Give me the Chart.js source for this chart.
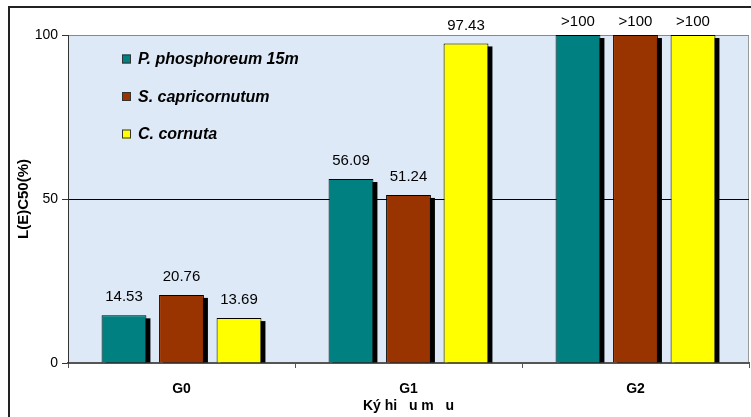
<!DOCTYPE html>
<html>
<head>
<meta charset="utf-8">
<script src="https://cdn.jsdelivr.net/npm/chart.js@4"></script>
<style>
  body { margin: 0; background: #fff; }
</style>
</head>
<body>
<canvas id="chart1" width="751" height="417"></canvas>
<script>
var groups = ['G0', 'G1', 'G2'];
var species = ['P. phosphoreum 15m', 'S. capricornutum', 'C. cornuta'];
var phosphoreum = [14.53, 56.09, 100];
var capricornutum = [20.76, 51.24, 100];
var cornuta = [13.69, 97.43, 100];
var phosphoreumText = ['14.53', '56.09', '>100'];
var capricornutumText = ['20.76', '51.24', '>100'];
var cornutaText = ['13.69', '97.43', '>100'];
var yTicks = [0, 50, 100];

var colors = ['#008080', '#993300', '#ffff00'];
var FONT = '"Liberation Sans", Arial, sans-serif';

// frame + plot background
var framePlugin = {
    id: 'frame',
    beforeDraw: function (chart) {
        var ctx = chart.ctx, a = chart.chartArea;
        ctx.save();
        ctx.fillStyle = '#dde9f7';
        ctx.fillRect(a.left, a.top, a.right - a.left, a.bottom - a.top);
        ctx.strokeStyle = '#222';
        ctx.lineWidth = 2;
        ctx.strokeRect(9, 7, 800, 500);
        ctx.strokeStyle = '#999';
        ctx.lineWidth = 1;
        ctx.beginPath();
        ctx.moveTo(a.right - 0.5, a.top);
        ctx.lineTo(a.right - 0.5, a.bottom);
        ctx.stroke();
        ctx.restore();
    }
};

// black drop shadow behind each bar
var shadowPlugin = {
    id: 'barShadow',
    beforeDatasetsDraw: function (chart) {
        var ctx = chart.ctx, a = chart.chartArea;
        ctx.save();
        ctx.beginPath();
        ctx.rect(a.left, a.top, a.right - a.left, a.bottom - a.top);
        ctx.clip();
        ctx.fillStyle = '#000';
        chart.data.datasets.forEach(function (ds, i) {
            chart.getDatasetMeta(i).data.forEach(function (bar) {
                var w = bar.width, top = Math.max(bar.y, a.top);
                ctx.fillRect(bar.x - w / 2 + 4, top + 3, w, bar.base - top - 3);
            });
        });
        ctx.restore();
    }
};

// value labels and legend inside plot
var labelPlugin = {
    id: 'labels',
    afterDraw: function (chart) {
        var ctx = chart.ctx, a = chart.chartArea;
        ctx.save();
        ctx.fillStyle = '#000';
        ctx.font = '15px ' + FONT;
        ctx.textAlign = 'center';
        ctx.textBaseline = 'middle';
        chart.data.datasets.forEach(function (ds, i) {
            chart.getDatasetMeta(i).data.forEach(function (bar, j) {
                var off = ds.data[j] >= 100 ? 13 : 18;
                ctx.fillText(ds.valueText[j], bar.x, Math.max(bar.y, a.top) - off);
            });
        });
        ctx.font = 'italic bold 16px ' + FONT;
        ctx.textAlign = 'left';
        chart.data.datasets.forEach(function (ds, i) {
            var x = a.left + 54, y = a.top + 24 + i * 37.5;
            ctx.fillStyle = ds.backgroundColor;
            ctx.fillRect(x, y - 4.5, 9, 9);
            ctx.strokeStyle = '#333';
            ctx.lineWidth = 1;
            ctx.strokeRect(x + 0.5, y - 4, 8, 8);
            ctx.fillStyle = '#000';
            ctx.fillText(ds.label, x + 16, y + 1);
        });
        ctx.restore();
    }
};

function makeSet(label, data, text, color) {
    return {
        label: label,
        data: data,
        valueText: text,
        backgroundColor: color,
        borderColor: '#000',
        borderWidth: 1,
        categoryPercentage: 0.76,
        barPercentage: 0.78
    };
}

var ctx1 = document.getElementById('chart1').getContext('2d');
var chart1 = new Chart(ctx1, {
    type: 'bar',
    data: {
        labels: groups,
        datasets: [
            makeSet(species[0], phosphoreum, phosphoreumText, colors[0]),
            makeSet(species[1], capricornutum, capricornutumText, colors[1]),
            makeSet(species[2], cornuta, cornutaText, colors[2])
        ]
    },
    options: {
        responsive: false,
        animation: false,
        layout: { padding: { left: 8, top: 35, right: 2, bottom: 0 } },
        plugins: {
            legend: { display: false },
            tooltip: { enabled: false }
        },
        scales: {
            x: {
                afterFit: function (s) { s.height = 54; },
                grid: { drawOnChartArea: false, tickLength: 5, tickColor: '#555' },
                border: { color: '#555', width: 2 },
                ticks: { color: '#000', font: { family: FONT, size: 14, weight: 'bold' }, padding: 13 },
                title: {
                    display: true,
                    text: 'Ký hi   u m   u',
                    color: '#000',
                    font: { family: FONT, size: 14, weight: 'bold' },
                    padding: { top: 0, bottom: 2 }
                }
            },
            y: {
                min: 0,
                max: 100,
                afterFit: function (s) { s.width = 60; },
                afterBuildTicks: function (s) { s.ticks = yTicks.map(function (v) { return { value: v }; }); },
                grid: {
                    color: function (c) { return c.tick.value === 50 ? '#000' : (c.tick.value === 100 ? '#888' : 'rgba(0,0,0,0)'); },
                    tickColor: '#333',
                    tickLength: 6
                },
                border: { color: '#333' },
                ticks: { color: '#000', font: { family: FONT, size: 14 }, padding: 4 },
                title: {
                    display: true,
                    text: 'L(E)C50(%)',
                    color: '#000',
                    font: { family: FONT, size: 15, weight: 'bold' },
                    padding: { top: 7, bottom: 0 }
                }
            }
        }
    },
    plugins: [framePlugin, shadowPlugin, labelPlugin]
});
</script>
</body>
</html>
